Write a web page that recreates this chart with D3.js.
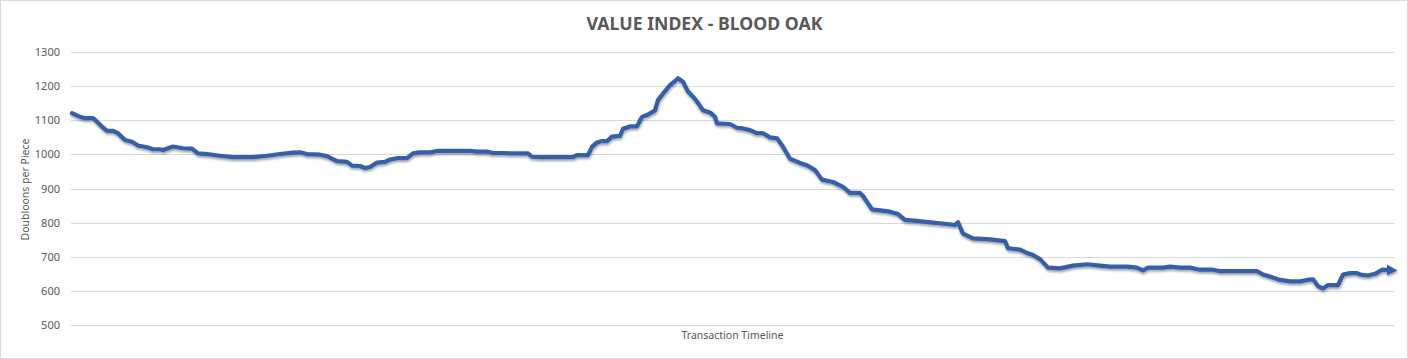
<!DOCTYPE html>
<html>
<head>
<meta charset="utf-8">
<script src="https://cdn.jsdelivr.net/npm/d3@7"></script>
<style>
  html, body { margin: 0; padding: 0; background: #fff; }
  svg { display: block; }
</style>
</head>
<body>
<svg id="chart" width="1408" height="359"></svg>
<script>
// ---- data ----
const chartTitle = "VALUE INDEX - BLOOD OAK";
const yAxisTitle = "Doubloons per Piece";
const xAxisTitle = "Transaction Timeline";
const yTicks = [500, 600, 700, 800, 900, 1000, 1100, 1200, 1300];

// transaction position along the timeline
const txIndex = [
  0, 8, 13, 21, 25, 30, 35, 41, 46, 53, 60, 66, 75, 81, 88, 91, 101, 111, 120, 126,
  135, 148, 161, 181, 195, 208, 221, 228, 235, 248, 255, 265, 275, 280, 288, 293, 298, 305, 313, 318,
  326, 335, 341, 348, 358, 365, 398, 405, 415, 421, 431, 438, 456, 460, 468, 501, 505, 516, 520, 525,
  530, 535, 540, 548, 551, 558, 565, 570, 576, 583, 586, 591, 598, 603, 606, 611, 616, 621, 625, 631,
  638, 643, 645, 658, 665, 671, 678, 685, 691, 698, 705, 710, 718, 728, 735, 743, 750, 761, 771, 778,
  788, 791, 800, 818, 826, 833, 845, 861, 875, 883, 886, 891, 901, 918, 933, 936, 948, 956, 961, 968,
  976, 988, 1001, 1015, 1028, 1038, 1055, 1065, 1071, 1076, 1091, 1098, 1108, 1118, 1128, 1141, 1148, 1185, 1191, 1198,
  1208, 1218, 1228, 1235, 1241, 1246, 1251, 1256, 1266, 1271, 1278, 1285, 1288, 1296, 1303, 1310, 1318
];
const values = [
  1121, 1110, 1106, 1106, 1096, 1081, 1069, 1069, 1062, 1042, 1037, 1026, 1021, 1015, 1015, 1013, 1023, 1018, 1017, 1003,
  1001, 996, 992, 992, 996, 1001, 1005, 1006, 1001, 999, 995, 980, 978, 967, 966, 960, 963, 976, 978, 985,
  989, 989, 1003, 1006, 1006, 1010, 1010, 1008, 1008, 1004, 1004, 1003, 1003, 993, 992, 992, 998, 998, 1022, 1035,
  1039, 1039, 1052, 1054, 1075, 1082, 1082, 1110, 1117, 1129, 1159, 1178, 1203, 1215, 1223, 1213, 1184, 1169, 1155, 1129,
  1123, 1110, 1091, 1089, 1078, 1076, 1071, 1062, 1062, 1050, 1047, 1027, 987, 975, 968, 954, 926, 919, 905, 887,
  887, 878, 839, 832, 825, 808, 805, 800, 796, 793, 801, 768, 754, 751, 746, 725, 721, 710, 705, 693,
  668, 666, 674, 678, 674, 671, 671, 668, 660, 668, 668, 671, 668, 668, 662, 662, 658, 658, 648, 642,
  632, 628, 628, 632, 634, 614, 607, 617, 617, 648, 652, 652, 648, 645, 650, 662, 661
];

const data = txIndex.map((t, i) => ({ t, v: values[i] }));

// ---- layout ----
const W = 1408, H = 359;
const plot = { left: 71, right: 1394, top: 52, bottom: 325 };
const lineStart = 72, lineEnd = 1390;

const svg = d3.select("#chart");

// chart border
svg.append("rect")
  .attr("x", 0.5).attr("y", 0.5)
  .attr("width", W - 1).attr("height", H - 1)
  .attr("fill", "#fff").attr("stroke", "#d9d9d9");

const x = d3.scaleLinear()
  .domain(d3.extent(txIndex))
  .range([lineStart, lineEnd]);
const y = d3.scaleLinear()
  .domain([500, 1300])
  .range([plot.bottom, plot.top]);

// gridlines
svg.append("g")
  .selectAll("line")
  .data(yTicks)
  .join("line")
  .attr("x1", plot.left).attr("x2", plot.right)
  .attr("y1", d => Math.round(y(d)) + 0.5)
  .attr("y2", d => Math.round(y(d)) + 0.5)
  .attr("stroke", "#d9d9d9").attr("stroke-width", 1);

// y axis labels
const yAxis = d3.axisLeft(y).tickValues(yTicks).tickFormat(d3.format("d")).tickSize(0).tickPadding(0);
const gy = svg.append("g")
  .attr("transform", `translate(60,0)`)
  .call(yAxis);
gy.select(".domain").remove();
gy.selectAll("text")
  .attr("fill", "#595959")
  .style("font-family", "'Noto Sans', sans-serif")
  .style("font-size", "11px");

// title
svg.append("text")
  .attr("x", 704.5).attr("y", 30)
  .attr("text-anchor", "middle")
  .attr("fill", "#595959")
  .style("font-family", "'Noto Sans', sans-serif")
  .style("font-weight", "bold")
  .style("font-size", "17.7px")
  .text(chartTitle);

// axis titles
svg.append("text")
  .attr("transform", `translate(29,189.5) rotate(-90)`)
  .attr("text-anchor", "middle")
  .attr("fill", "#595959")
  .style("font-family", "'Noto Sans', sans-serif")
  .style("font-size", "10.5px")
  .text(yAxisTitle);

svg.append("text")
  .attr("x", 732.5).attr("y", 339)
  .attr("text-anchor", "middle")
  .attr("fill", "#595959")
  .style("font-family", "'Noto Sans', sans-serif")
  .style("font-size", "10.5px")
  .text(xAxisTitle);

// shadow filter and arrow marker
const defs = svg.append("defs");
const f = defs.append("filter").attr("id", "shadow")
  .attr("x", "-5%").attr("y", "-20%").attr("width", "110%").attr("height", "140%");
f.append("feDropShadow")
  .attr("dx", 0.5).attr("dy", 2).attr("stdDeviation", 1.3)
  .attr("flood-color", "#000").attr("flood-opacity", 0.35);

defs.append("marker")
  .attr("id", "arrow")
  .attr("viewBox", "0 0 10 10")
  .attr("refX", 3).attr("refY", 5)
  .attr("markerWidth", 2.6).attr("markerHeight", 2.6)
  .attr("orient", "auto")
  .append("path")
  .attr("d", "M0,0 L10,5 L0,10 z")
  .attr("fill", "#3461a8");

// line
const line = d3.line()
  .x(d => x(d.t))
  .y(d => y(d.v))
  .curve(d3.curveLinear);

svg.append("path")
  .datum(data)
  .attr("d", line)
  .attr("fill", "none")
  .attr("stroke", "#3461a8")
  .attr("stroke-width", 4.2)
  .attr("stroke-linejoin", "round")
  .attr("stroke-linecap", "round")
  .attr("marker-end", "url(#arrow)")
  .attr("filter", "url(#shadow)");
</script>
</body>
</html>
